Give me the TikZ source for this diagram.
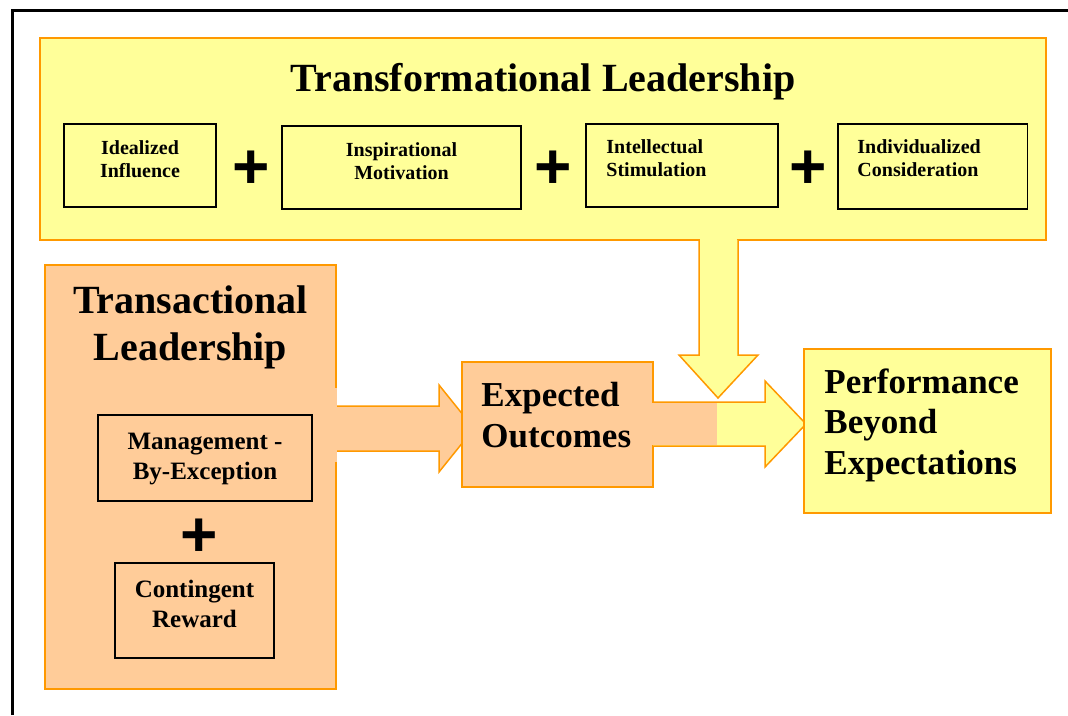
\documentclass[tikz,border=0pt]{standalone}
\usepackage{fontspec}
\setmainfont{Liberation Serif}
\newfontfamily\plusfont{Liberation Sans}
\usepackage{tikz}
\usetikzlibrary{positioning}

\definecolor{ylwfill}{HTML}{FFFF99}
\definecolor{pchfill}{HTML}{FFCC99}
\definecolor{orgline}{HTML}{FF9900}

\begin{document}
\begin{tikzpicture}[x=1pt,y=-1pt,
    ybox/.style={draw=orgline,fill=ylwfill,line width=1.5pt,inner sep=0pt},
    obox/.style={draw=orgline,fill=pchfill,line width=1.5pt,inner sep=0pt},
    sbox/.style={draw=black,line width=1.5pt,inner sep=0pt},
    bigtxt/.style={inner sep=0pt,font=\fontsize{40}{47}\selectfont\bfseries,align=center},
    midtxt/.style={inner sep=0pt,font=\fontsize{35}{40.5}\selectfont\bfseries,align=left},
    smltxt/.style={inner sep=0pt,font=\fontsize{20}{23}\selectfont\bfseries},
    mgttxt/.style={inner sep=0pt,font=\fontsize{25}{29.5}\selectfont\bfseries,align=center},
    plus/.style={inner sep=0pt,font=\plusfont\fontsize{64}{64}\selectfont\bfseries}]
    \useasboundingbox (0,0) rectangle (1068,715);
    \draw[line width=3pt] (12,715) -- (12,10) -- (1068,10);

    % transformational leadership
    \node [ybox,minimum width=1006pt,minimum height=202pt] (tfl) at (543,139) {};
    \filldraw [draw=orgline,fill=ylwfill,line width=1.5pt] (699,240) -- (699,355) -- (679,355) -- (718,398) -- (758,355) -- (738,355) -- (738,240);
    \fill [ylwfill] (699.75,238) rectangle (737.25,241);
    \node [bigtxt,below=26pt of tfl.north] (tfltitle) {Transformational Leadership};
    \node [sbox,minimum width=152pt,minimum height=83pt] (ideal) at (140,165.5) {};
    \node [smltxt,align=center,below=17pt of ideal.north] (idealtxt) {Idealized\\Influence};
    \node [sbox,minimum width=239pt,minimum height=83pt] (insp) at (401.5,167.5) {};
    \node [smltxt,align=center,below=17pt of insp.north] (insptxt) {Inspirational\\Motivation};
    \node [sbox,minimum width=192pt,minimum height=83pt] (intel) at (682,165.5) {};
    \node [smltxt,align=left,below right=16pt and 21pt of intel.north west] (inteltxt) {Intellectual\\Stimulation};
    \node [sbox,minimum width=189.5pt,minimum height=85pt] (indiv) at (932.75,166.5) {};
    \node [smltxt,align=left,below right=16pt and 20pt of indiv.north west] (indivtxt) {Individualized\\Consideration};
    \node [plus] (plusa) at (251,170) {+};
    \node [plus] (plusb) at (553,170) {+};
    \node [plus] (plusc) at (808,170) {+};

    % transactional leadership
    \node [obox,minimum width=291pt,minimum height=424pt] (tsl) at (190.5,477) {};
    \filldraw [draw=orgline,fill=pchfill,line width=1.5pt] (336,406) -- (439,406) -- (439,385) -- (474,428.5) -- (439,472) -- (439,451) -- (336,451);
    \fill [pchfill] (335.2,388) rectangle (336.8,462);
    \node [bigtxt,below=21pt of tsl.north] (tsltitle) {Transactional\\Leadership};
    \node [sbox,minimum width=214pt,minimum height=86pt] (mbe) at (205,458) {};
    \node [mgttxt,below=19pt of mbe.north] (mbetxt) {Management -\\By-Exception};
    \node [plus] (plusd) at (199,538) {+};
    \node [sbox,minimum width=159pt,minimum height=95pt] (cr) at (194.5,610.5) {};
    \node [mgttxt,below=18pt of cr.north] (crtxt) {Contingent\\Reward};

    % outcomes
    \node [obox,minimum width=191pt,minimum height=125pt] (eo) at (557.5,424.5) {};
    \node [midtxt,below right=21pt and 20pt of eo.north west] (eotxt) {Expected\\Outcomes};
    \filldraw [draw=orgline,fill=ylwfill,line width=1.5pt] (653,402) -- (765,402) -- (765,381) -- (806,424) -- (765,467) -- (765,446) -- (653,446);
    \fill [pchfill] (652.2,402.8) rectangle (717,445.2);
    \node [ybox,minimum width=247pt,minimum height=164pt] (pbe) at (927.5,431) {};
    \node [midtxt,below right=20pt and 21pt of pbe.north west] (pbetxt) {Performance\\Beyond\\Expectations};
\end{tikzpicture}
\end{document}
